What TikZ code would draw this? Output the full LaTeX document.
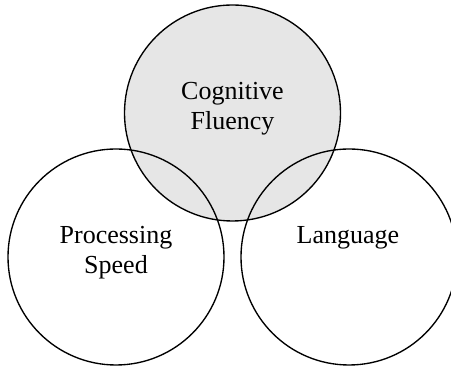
\documentclass[tikz,border=0pt]{standalone}
\usepackage{fontspec}
\setmainfont{Liberation Serif}
\usetikzlibrary{positioning}
\definecolor{fluencyfill}{HTML}{E6E6E6}
\tikzset{
  areacircle/.style={circle, draw=black, line width=1.35pt, minimum size=216pt, inner sep=0pt},
  areatext/.style={font=\fontsize{26pt}{30pt}\selectfont, align=center, inner sep=0pt}
}

\begin{document}
\begin{tikzpicture}[x=1pt,y=1pt]
\useasboundingbox (0,0) rectangle (451,369);

% --- Circles ---
\node[areacircle, fill=fluencyfill] (fluency) at (232.5,256) {};
\node[areacircle] (speed) at (116,112) {};
\node[areacircle] (lang) at (349,112) {};

% --- Labels ---
\node[areatext] (fluencytxt) at (232.5,260) {Cognitive\\Fluency};
\node[areatext] (speedtxt) at (116,116) {Processing\\Speed};
\node[areatext] (langtxt) at (348,131) {Language};

\end{tikzpicture}
\end{document}
